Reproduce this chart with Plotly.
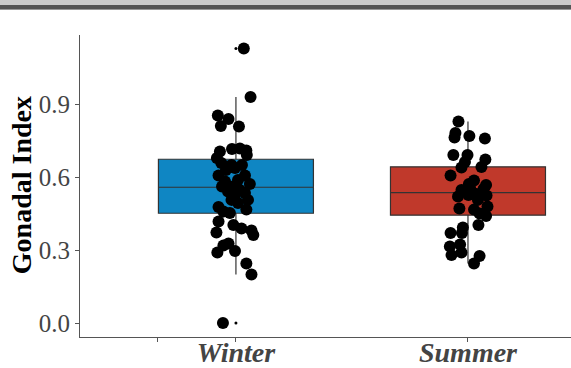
import plotly.graph_objects as go

# ---- data ----
categories = ["Winter", "Summer"]
cat_pos = [1, 2]

winter_values = [1.128, 0.929, 0.853, 0.838, 0.810, 0.808, 0.705, 0.715, 0.717, 0.709,
                 0.690, 0.678, 0.658, 0.649, 0.637, 0.606, 0.606, 0.582, 0.588, 0.571,
                 0.561, 0.561, 0.540, 0.534, 0.547, 0.506, 0.506, 0.493, 0.477, 0.466,
                 0.458, 0.452, 0.526, 0.629, 0.649, 0.417, 0.403, 0.388, 0.380, 0.372,
                 0.362, 0.327, 0.319, 0.290, 0.296, 0.245, 0.199, 0.000]
winter_jitter = [0.034, 0.063, -0.078, -0.032, -0.065, 0.013, -0.069, -0.017, 0.017, 0.045,
                 0.047, -0.082, -0.063, -0.019, -0.004, -0.075, 0.039, -0.047, 0.009, 0.060,
                 -0.060, -0.013, -0.034, 0.039, 0.017, -0.019, 0.052, 0.009, -0.075, 0.045,
                 -0.054, -0.026, -0.004, -0.043, 0.026, -0.075, -0.011, 0.024, 0.067, -0.084,
                 0.075, -0.032, -0.054, -0.080, -0.004, 0.045, 0.067, -0.056]

summer_values = [0.828, 0.781, 0.762, 0.769, 0.758, 0.690, 0.690, 0.672, 0.662, 0.639,
                 0.641, 0.606, 0.586, 0.571, 0.567, 0.547, 0.551, 0.526, 0.520, 0.524,
                 0.530, 0.471, 0.466, 0.479, 0.450, 0.440, 0.403, 0.370, 0.393, 0.370,
                 0.314, 0.323, 0.290, 0.279, 0.245, 0.275, 0.506, 0.555]
summer_jitter = [-0.041, -0.054, -0.058, 0.006, 0.073, -0.063, -0.002, 0.075, -0.013, -0.028,
                 0.058, -0.075, 0.026, 0.004, 0.078, -0.028, 0.067, 0.002, -0.043, 0.080,
                 0.037, -0.037, 0.026, 0.084, 0.050, 0.078, 0.045, -0.075, -0.022, -0.026,
                 -0.078, -0.034, -0.028, -0.071, 0.026, 0.050, 0.043, 0.009]

# box statistics
q1 = [0.451, 0.443]
median = [0.558, 0.536]
q3 = [0.673, 0.642]
lower_fence = [0.199, 0.245]
upper_fence = [0.929, 0.828]
outliers_winter = [1.128, 0.000]

box_colors = ["#0F86C3", "#C0392B"]
y_ticks = [0.0, 0.3, 0.6, 0.9]
y_title = "Gonadal Index"

fig = go.Figure()

for i in range(2):
    fig.add_trace(go.Box(
        x=[cat_pos[i]], q1=[q1[i]], median=[median[i]], q3=[q3[i]],
        lowerfence=[lower_fence[i]], upperfence=[upper_fence[i]],
        width=0.668, fillcolor=box_colors[i],
        line=dict(color="#333333", width=1.2), whiskerwidth=0,
        boxpoints=False, showlegend=False, hoverinfo="skip"))

# ggplot-style small outlier dots
fig.add_trace(go.Scatter(
    x=[cat_pos[0]] * len(outliers_winter), y=outliers_winter, mode="markers",
    marker=dict(color="black", size=3), showlegend=False, hoverinfo="skip"))

fig.add_trace(go.Scatter(
    x=[cat_pos[0] + j for j in winter_jitter], y=winter_values, mode="markers",
    marker=dict(color="black", size=12, line=dict(width=0)), showlegend=False))
fig.add_trace(go.Scatter(
    x=[cat_pos[1] + j for j in summer_jitter], y=summer_values, mode="markers",
    marker=dict(color="black", size=12, line=dict(width=0)), showlegend=False))

serif = "Liberation Serif"

fig.update_layout(
    width=571, height=368,
    margin=dict(l=80, r=0, t=35, b=31),
    paper_bgcolor="white", plot_bgcolor="white",
    xaxis=dict(
        range=[0.328, 2.444], tickmode="array", tickvals=[0.66] + cat_pos,
        ticktext=[""] + categories, showgrid=False, zeroline=False,
        showline=True, linecolor="#555555", linewidth=1, automargin=False,
        ticks="outside", ticklen=4, tickcolor="#555555", ticklabelstandoff=-14,
        tickfont=dict(family=serif, size=28, color="#444444", weight="bold", style="italic"),
    ),
    yaxis=dict(
        range=[-0.0575, 1.1836], tickmode="array", tickvals=y_ticks,
        ticktext=[f"{v:.1f}" for v in y_ticks], showgrid=False, zeroline=False,
        showline=True, linecolor="#555555", linewidth=1, automargin=False,
        ticks="outside", ticklen=4, tickcolor="#555555",
        tickfont=dict(family=serif, size=25, color="#444444"),
    ),
    annotations=[dict(
        text=y_title, xref="paper", yref="paper", x=-0.12, y=0.503,
        xanchor="center", yanchor="middle", textangle=-90, showarrow=False,
        font=dict(family=serif, size=28, color="black", weight="bold"))],
    shapes=[
        dict(type="rect", xref="paper", yref="paper", x0=-0.2, x1=1.0,
             y0=1.0993, y1=1.1159, fillcolor="#cccccc", line=dict(width=0), layer="above"),
        dict(type="rect", xref="paper", yref="paper", x0=-0.2, x1=1.0,
             y0=1.0861, y1=1.0993, fillcolor="#555555", line=dict(width=0), layer="above"),
        dict(type="rect", xref="paper", yref="paper", x0=-0.2, x1=1.0,
             y0=1.0828, y1=1.0861, fillcolor="#999999", line=dict(width=0), layer="above"),
    ],
)

fig.write_html("out.html", config={"displayModeBar": False},
               post_script="document.body.style.margin='0';document.body.style.overflow='hidden';")
